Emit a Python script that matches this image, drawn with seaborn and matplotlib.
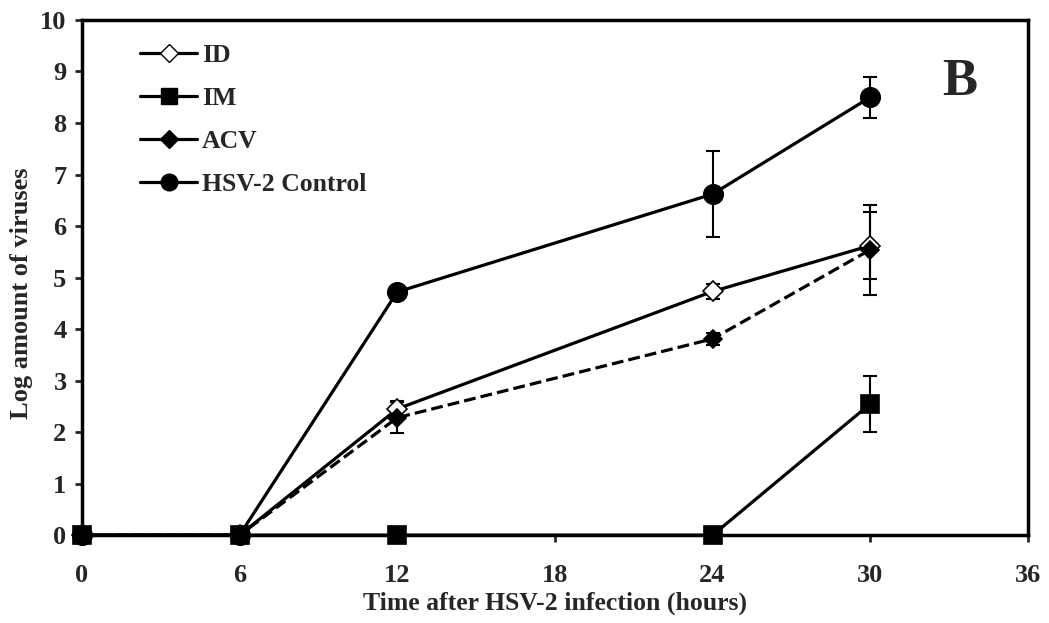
import pandas as pd
import matplotlib
matplotlib.use("Agg")
import matplotlib.pyplot as plt
import seaborn as sns
from matplotlib.lines import Line2D

# Data
hours = [0, 6, 12, 24, 30]
id_vals = [0, 0, 2.45, 4.73, 5.62]
id_err = [0, 0, 0.15, 0.15, 0.65]
im_vals = [0, 0, 0, 0, 2.55]
im_err = [0, 0, 0, 0, 0.54]
acv_vals = [0, 0, 2.28, 3.81, 5.54]
acv_err = [0, 0, 0.30, 0.12, 0.87]
ctrl_vals = [0, 0, 4.72, 6.62, 8.50]
ctrl_err = [0, 0, 0, 0.83, 0.40]
x_ticks = [0, 6, 12, 18, 24, 30, 36]
legend_labels = ["ID", "IM", "ACV", "HSV-2 Control"]

sns.set_theme(style="ticks")
plt.rcParams['font.family'] = ['Liberation Serif', 'DejaVu Serif']
plt.rcParams['font.weight'] = 'bold'

frames = []
for name, vals, err in [("HSV-2 Control", ctrl_vals, ctrl_err), ("ID", id_vals, id_err),
                        ("ACV", acv_vals, acv_err), ("IM", im_vals, im_err)]:
    frames.append(pd.DataFrame({"hours": hours, "value": vals, "err": err, "group": name}))
df = pd.concat(frames, ignore_index=True)

# marker / line settings per series
styles = {
    "HSV-2 Control": dict(marker="o", ms=14, mfc="black", ls="-"),
    "ID": dict(marker="D", ms=10, mfc="white", ls="-"),
    "ACV": dict(marker="D", ms=9, mfc="black", ls="--"),
    "IM": dict(marker="s", ms=13, mfc="black", ls="-"),
}

fig, ax = plt.subplots(figsize=(10.49, 6.23), dpi=100)
fig.subplots_adjust(left=0.078, right=0.98, bottom=0.141, top=0.968)

for name in ["HSV-2 Control", "ID", "ACV", "IM"]:
    sub = df[df["group"] == name]
    st = styles[name]
    sns.lineplot(data=sub, x="hours", y="value", ax=ax, color="black", linewidth=2.3,
                 linestyle=st["ls"], marker=st["marker"], markersize=st["ms"],
                 markerfacecolor=st["mfc"], markeredgecolor="black", markeredgewidth=1.2,
                 clip_on=False, zorder=3)
    has_err = sub["err"] > 0
    ax.errorbar(sub["hours"][has_err], sub["value"][has_err], yerr=sub["err"][has_err],
                fmt="none", ecolor="black", elinewidth=1.5, capsize=5, capthick=1.5, zorder=2)

ax.set_xlim(0, 36)
ax.set_ylim(0, 10)
ax.set_xticks(x_ticks)
ax.set_yticks(range(0, 11))
ax.tick_params(axis="both", direction="out", length=5, width=2, labelsize=19)
ax.tick_params(axis="x", pad=16)
ax.tick_params(axis="y", pad=6)
for lab in ax.get_xticklabels() + ax.get_yticklabels():
    lab.set_fontweight("bold")
for side in ["left", "right", "top", "bottom"]:
    ax.spines[side].set_linewidth(2.5)
    ax.spines[side].set_color("black")

ax.set_xlabel("Time after HSV-2 infection (hours)", fontsize=18.5, fontweight="bold", labelpad=3)
ax.set_ylabel("Log amount of viruses", fontsize=19, fontweight="bold")
ax.yaxis.set_label_coords(-0.052, 0.47)

handles = [
    Line2D([], [], color="black", lw=2.3, marker="D", ms=9, mfc="white", mec="black"),
    Line2D([], [], color="black", lw=2.3, marker="s", ms=12, mfc="black", mec="black"),
    Line2D([], [], color="black", lw=2.3, marker="D", ms=9, mfc="black", mec="black"),
    Line2D([], [], color="black", lw=2.3, marker="o", ms=12, mfc="black", mec="black"),
]
ax.legend(handles, legend_labels, loc="upper left",
          bbox_to_anchor=(0.051, 0.974), borderaxespad=0, frameon=False,
          handlelength=2.2, handletextpad=0.2, labelspacing=0.78,
          prop={"weight": "bold", "size": 18.5})

ax.text(0.928, 0.88, "B", transform=ax.transAxes, fontsize=38, fontweight="bold",
        ha="center", va="center")

plt.savefig("out.png", dpi=100)
